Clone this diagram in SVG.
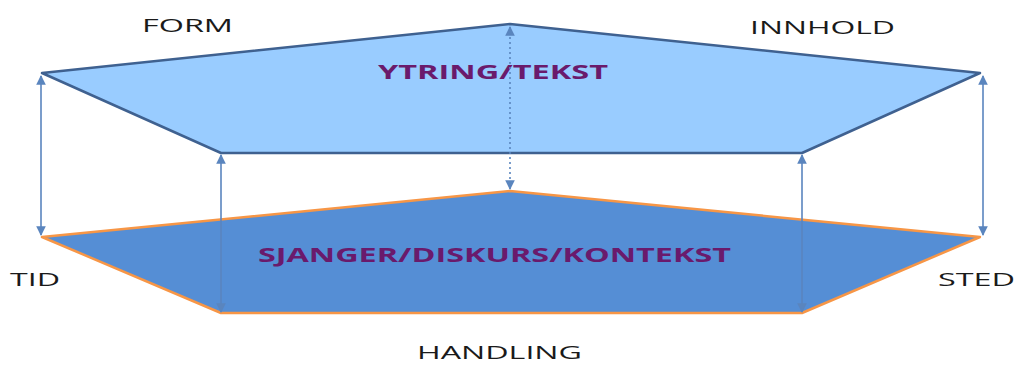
<svg xmlns="http://www.w3.org/2000/svg" width="1017" height="385" viewBox="0 0 1017 385">
<style>
.top{fill:#99CCFF;stroke:#3F6190;stroke-width:2.5;stroke-linejoin:round}
.bot{fill:#558ED5;stroke:#F79646;stroke-width:2.5;stroke-linejoin:round}
.lbl{font-family:"Open Sans","Liberation Sans",sans-serif;font-size:18px;fill:#1a1a1a}
.ttl{font-family:"Open Sans","Liberation Sans",sans-serif;font-size:19px;font-weight:bold;fill:#6A1A6C}
.arr{stroke:#5A85BE;stroke-width:1.6;fill:none;marker-start:url(#ah);marker-end:url(#ah)}
.dot{stroke-dasharray:2 3}
</style>
<defs>
<marker id="ah" viewBox="0 0 10 10" refX="9" refY="5" markerWidth="6" markerHeight="6" orient="auto-start-reverse" markerUnits="strokeWidth">
<path d="M0,0 L10,5 L0,10 z" fill="#5A85BE"/>
</marker>
</defs>
<g id="bottom-plane">
<polygon class="bot" points="42,237 510,191 980,237 802,313 221,313"/>
<text class="ttl" x="258" y="262" textLength="473" lengthAdjust="spacingAndGlyphs">SJANGER/DISKURS/KONTEKST</text>
</g>
<g id="top-plane">
<polygon class="top" points="42,73 510,24 980,73 802,153 221,153"/>
<text class="ttl" x="378" y="79" textLength="230" lengthAdjust="spacingAndGlyphs">YTRING/TEKST</text>
</g>
<g id="connectors">
<line class="arr" x1="41" y1="76" x2="41" y2="235"/>
<line class="arr" x1="983" y1="76" x2="983" y2="235"/>
<line class="arr" x1="221" y1="155" x2="221" y2="312"/>
<line class="arr" x1="802" y1="155" x2="802" y2="312"/>
<line class="arr dot" x1="510" y1="27" x2="510" y2="189"/>
</g>
<g id="label-form"><text class="lbl" x="142" y="32" textLength="91" lengthAdjust="spacingAndGlyphs">FORM</text></g>
<g id="label-innhold"><text class="lbl" x="750" y="34" textLength="145" lengthAdjust="spacingAndGlyphs">INNHOLD</text></g>
<g id="label-tid"><text class="lbl" x="10" y="286" textLength="50" lengthAdjust="spacingAndGlyphs">TID</text></g>
<g id="label-sted"><text class="lbl" x="938" y="286" textLength="77" lengthAdjust="spacingAndGlyphs">STED</text></g>
<g id="label-handling"><text class="lbl" x="417" y="359" textLength="165" lengthAdjust="spacingAndGlyphs">HANDLING</text></g>
</svg>
